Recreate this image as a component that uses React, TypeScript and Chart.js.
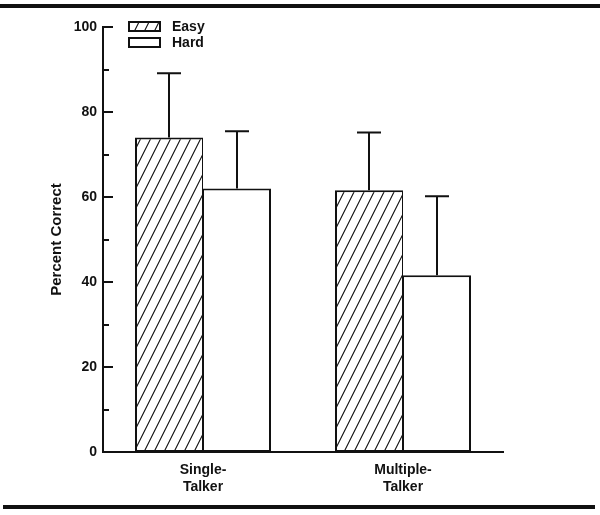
import React, { useEffect, useRef } from 'react';
import { Chart, registerables } from 'chart.js';

Chart.register(...registerables);

const categories = [['Single-', 'Talker'], ['Multiple-', 'Talker']];
const seriesNames = ['Easy', 'Hard'];
const easyMeans = [74, 61.6];
const hardMeans = [62, 41.6];
const easyErrors = [15.1, 13.6];
const hardErrors = [13.5, 18.6];
const yMin = 0;
const yMax = 100;
const yLabelStep = 20;
const yMinorStep = 10;

const FONT = '"Liberation Sans", Arial, sans-serif';

function makeHatch(): CanvasPattern | string {
  const c = document.createElement('canvas');
  c.width = 10;
  c.height = 20;
  const g = c.getContext('2d');
  if (!g) return '#fff';
  g.fillStyle = '#fff';
  g.fillRect(0, 0, 10, 20);
  g.strokeStyle = '#111';
  g.lineWidth = 1.1;
  g.beginPath();
  g.moveTo(-1, 22);
  g.lineTo(11, -2);
  g.moveTo(-11, 22);
  g.lineTo(1, -2);
  g.moveTo(9, 22);
  g.lineTo(21, -2);
  g.stroke();
  return g.createPattern(c, 'repeat') || '#fff';
}

export default function App() {
  const ref = useRef<HTMLCanvasElement | null>(null);

  useEffect(() => {
    if (!ref.current) return;
    const hatch = makeHatch();
    const errors = [easyErrors, hardErrors];

    const decor = {
      id: 'decor',
      beforeDraw(chart: any) {
        const ctx = chart.ctx;
        ctx.save();
        ctx.fillStyle = '#fff';
        ctx.fillRect(0, 0, chart.width, chart.height);
        ctx.restore();
      },
      afterDatasetsDraw(chart: any) {
        const ctx = chart.ctx;
        const ys = chart.scales.y;
        ctx.save();
        ctx.strokeStyle = '#111';
        ctx.lineWidth = 2;
        chart.data.datasets.forEach((ds: any, i: number) => {
          const meta = chart.getDatasetMeta(i);
          meta.data.forEach((bar: any, j: number) => {
            const v = ds.data[j];
            const e = errors[i][j];
            const yBase = ys.getPixelForValue(v);
            const yTop = ys.getPixelForValue(v + e);
            ctx.beginPath();
            ctx.moveTo(bar.x, yBase);
            ctx.lineTo(bar.x, yTop);
            ctx.moveTo(bar.x - 12, yTop);
            ctx.lineTo(bar.x + 12, yTop);
            ctx.stroke();
          });
        });
        ctx.restore();
      },
      afterDraw(chart: any) {
        const ctx = chart.ctx;
        const ys = chart.scales.y;
        const left = chart.chartArea.left;
        ctx.save();
        ctx.strokeStyle = '#111';
        ctx.lineWidth = 2;
        for (let v = yMin; v <= yMax; v += yMinorStep) {
          const py = Math.round(ys.getPixelForValue(v));
          const len = v % yLabelStep === 0 ? 10 : 6;
          ctx.beginPath();
          ctx.moveTo(left, py);
          ctx.lineTo(left + len, py);
          ctx.stroke();
        }
        ctx.fillStyle = '#111';
        ctx.fillRect(0, 4, chart.width, 4);
        ctx.fillRect(3, 505, chart.width - 8, 4);
        const items = chart.data.datasets;
        items.forEach((ds: any, i: number) => {
          const by = 22 + i * 16;
          ctx.fillStyle = ds.backgroundColor;
          ctx.fillRect(129, by, 31, 9);
          ctx.lineWidth = 2;
          ctx.strokeStyle = '#111';
          ctx.strokeRect(129, by, 31, 9);
          ctx.fillStyle = '#111';
          ctx.font = 'bold 14px ' + FONT;
          ctx.textAlign = 'left';
          ctx.textBaseline = 'middle';
          ctx.fillText(ds.label, 172, by + 5);
        });
        ctx.restore();
      },
    };

    const chart = new Chart(ref.current, {
      type: 'bar',
      data: {
        labels: categories as any,
        datasets: [
          {
            label: seriesNames[0],
            data: easyMeans,
            backgroundColor: hatch as any,
            borderColor: '#111',
            borderWidth: { top: 2, left: 2, right: 1, bottom: 2 },
            borderSkipped: false,
          },
          {
            label: seriesNames[1],
            data: hardMeans,
            backgroundColor: '#fff',
            borderColor: '#111',
            borderWidth: { top: 2, left: 1, right: 2, bottom: 2 },
            borderSkipped: false,
          },
        ],
      },
      options: {
        animation: false,
        responsive: true,
        maintainAspectRatio: false,
        devicePixelRatio: 1,
        layout: { padding: { left: 0, top: 27, right: 97, bottom: 0 }, autoPadding: false },
        datasets: { bar: { categoryPercentage: 0.68, barPercentage: 1.0 } },
        plugins: { legend: { display: false }, tooltip: { enabled: false }, title: { display: false } },
        scales: {
          x: {
            type: 'category',
            offset: true,
            grid: { display: false, drawTicks: false },
            border: { display: true, color: '#111', width: 2 },
            ticks: {
              color: '#111',
              padding: 10,
              maxRotation: 0,
              autoSkip: false,
              font: { family: FONT, size: 14, weight: 'bold', lineHeight: 1.2 },
            },
            afterFit: (s: any) => {
              s.height = 63;
            },
          },
          y: {
            min: yMin,
            max: yMax,
            grid: { display: false, drawTicks: false, tickLength: 0 },
            border: { display: true, color: '#111', width: 2 },
            ticks: {
              stepSize: yLabelStep,
              color: '#111',
              padding: 6,
              font: { family: FONT, size: 14, weight: 'bold' },
            },
            title: {
              display: true,
              text: 'Percent Correct',
              color: '#111',
              font: { family: FONT, size: 15, weight: 'bold', lineHeight: 1.2 },
              padding: { top: 48, bottom: 0 },
            },
            afterFit: (s: any) => {
              s.width = 103;
            },
          },
        },
      },
      plugins: [decor],
    });
    return () => chart.destroy();
  }, []);

  return (
    <div style={{ position: 'absolute', left: 0, top: 0, width: 600, height: 515 }}>
      <canvas ref={ref} />
    </div>
  );
}
